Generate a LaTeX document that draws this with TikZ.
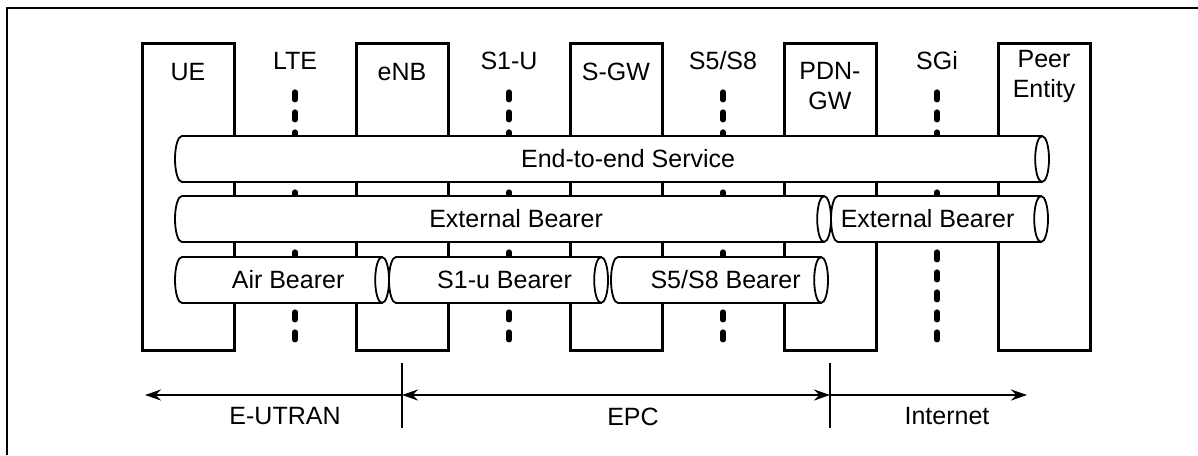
\documentclass[tikz,border=0pt]{standalone}
\usepackage{fontspec}
\setmainfont{Liberation Sans}
\usetikzlibrary{positioning,calc,shapes.geometric,arrows.meta}

\begin{document}
\begin{tikzpicture}[x=0.5pt,y=-0.5pt,node distance=61pt,
  box/.style={draw,line width=1.5pt,outer sep=0pt,minimum width=46pt,minimum height=153.5pt,inner sep=0pt},
  lbl/.style={inner sep=0pt,align=center,font=\fontsize{12.5}{15}\selectfont},
  ifline/.style={line width=2.6pt,line cap=round,dash pattern=on 3.9pt off 6.1pt},
  pipe/.style={cylinder,draw,line width=.9pt,outer sep=0pt,fill=white,shape aspect=.6,minimum width=23pt,inner sep=0pt,text height=9pt,text depth=2.5pt,anchor=west},
  >={Stealth[length=8pt,width=5.5pt]}]
\useasboundingbox (0,0) rectangle (1198,455);
\draw[line width=1pt] (7,455) |- (1198,8);
% network elements
\node[box,anchor=north west] (ue) at (142,43) {};
\node[box,right=of ue] (enb) {};
\node[box,right=of enb] (sgw) {};
\node[box,right=of sgw] (pdn) {};
\node[box,right=of pdn] (peer) {};
\node[lbl,below=10pt of ue.north] (ueT) {UE};
\node[lbl,below=10pt of enb.north] (enbT) {eNB};
\node[lbl,below=10pt of sgw.north] (sgwT) {S-GW};
\node[lbl,below=9.5pt of pdn.north] (pdnT) {PDN-\\GW};
\node[lbl,below=3.5pt of peer.north] (peerT) {Peer\\Entity};
% interfaces
\foreach \a/\b/\n/\t in {ue/enb/lte/LTE,enb/sgw/s1u/S1-U,sgw/pdn/s58/{S5/S8},pdn/peer/sgi/SGi}{
  \coordinate (\n top) at ($(\a.north east)!.5!(\b.north west)+(0,49)$);
  \draw[ifline] (\n top) -- (\n top |- \a.south);
  \node[lbl,above=11pt of \n top] (\n) {\t};
}
% bearers
\node[pipe,minimum height=437pt,label={[lbl,xshift=10pt]center:End-to-end Service}] (e2e) at (175,159) {};
\node[pipe,minimum height=328pt,label={[lbl,xshift=8.5pt]center:External Bearer}] (ext1) at (175,219) {};
\node[pipe,minimum height=108.5pt,right=0pt of ext1,label={[lbl,xshift=-4pt]center:External Bearer}] (ext2) {};
\node[pipe,minimum height=107pt,label={[lbl,xshift=5pt]center:Air Bearer}] (air) at (175,280) {};
\node[pipe,minimum height=109.5pt,right=0pt of air,label={[lbl,xshift=5pt]center:S1-u Bearer}] (s1ub) {};
\node[pipe,minimum height=108.5pt,right=1.5pt of s1ub,label={[lbl,xshift=5pt]center:S5/S8 Bearer}] (s58b) {};
% domains
\coordinate (wEnd) at (145,395);
\coordinate (eEnd) at (1027,395);
\coordinate (cut1) at (enb |- wEnd);
\coordinate (cut2) at (pdn |- wEnd);
\draw[line width=1pt,->] (cut1) -- (wEnd);
\draw[line width=1pt,<->] (cut1) -- (cut2);
\draw[line width=1pt,->] (cut2) -- (eEnd);
\foreach \c in {cut1,cut2} \draw[line width=1.2pt] ([yshift=16pt]\c) -- ([yshift=-16.5pt]\c);
\node[lbl,anchor=north] (eutran) at (285,407) {E-UTRAN};
\node[lbl,anchor=north] (epc) at (633,408) {EPC};
\node[lbl,anchor=north] (inet) at (947,407) {Internet};
\end{tikzpicture}
\end{document}
